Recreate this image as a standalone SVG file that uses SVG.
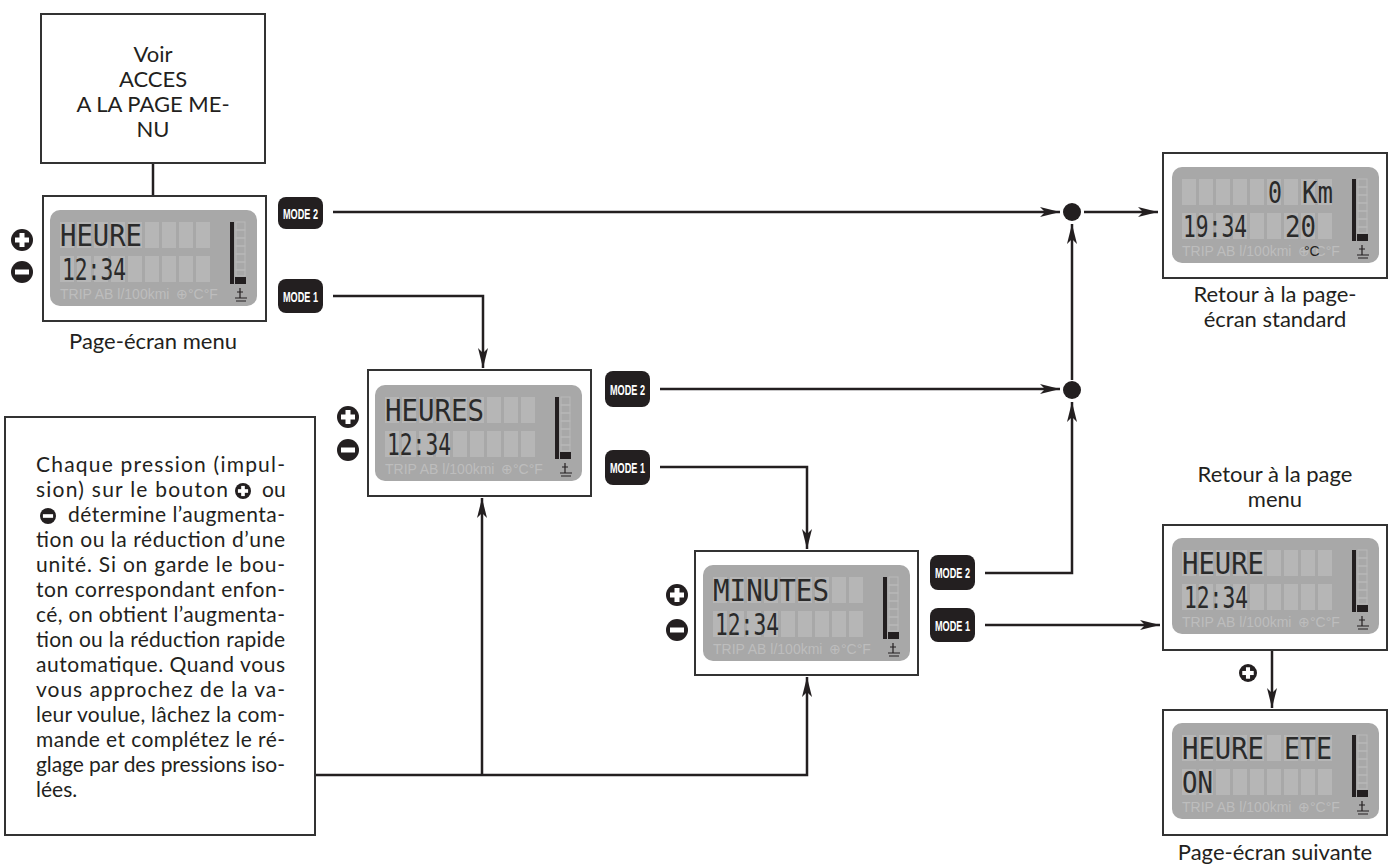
<svg xmlns="http://www.w3.org/2000/svg" xmlns:xlink="http://www.w3.org/1999/xlink" width="1392" height="867" viewBox="0 0 1392 867">
<style>
.frame{fill:#fff;stroke:#333;stroke-width:2}
.cap{font-family:"Lato","Open Sans",sans-serif;font-size:22px;fill:#231f20;text-anchor:middle}
.para{font-family:"Lato","Open Sans",sans-serif;font-size:21px;fill:#231f20}
.conn{fill:none;stroke:#231f20;stroke-width:2.5}
.lcdt{font-family:"DejaVu Sans Mono",monospace;font-size:30px;fill:#2a2a2a}
.btn{fill:#231f20}
.btxt{font-family:"Liberation Sans",sans-serif;font-weight:bold;font-size:15px;fill:#fff}
</style>
<defs>
<marker id="ah" viewBox="0 0 20 10" refX="20" refY="5" markerWidth="20" markerHeight="10" markerUnits="userSpaceOnUse" orient="auto">
<path d="M0,0 L20,5 L0,10 L5,5 Z" fill="#231f20"/>
</marker>
<symbol id="plus" viewBox="-11 -11 22 22" overflow="visible"><circle r="11" fill="#231f20"/><rect x="-7" y="-2.5" width="14" height="5" fill="#fff"/><rect x="-2.5" y="-7" width="5" height="14" fill="#fff"/></symbol>
<symbol id="minus" viewBox="-11 -11 22 22" overflow="visible"><circle r="11" fill="#231f20"/><rect x="-7" y="-2.5" width="14" height="5" fill="#fff"/></symbol>
<g id="lcd">
<rect width="207" height="96" rx="10" fill="#a8a8a8"/>
<g fill="#b6b6b6">
<rect x="10" y="12" width="14" height="26"/><rect x="27" y="12" width="14" height="26"/><rect x="44" y="12" width="14" height="26"/><rect x="61" y="12" width="14" height="26"/><rect x="78" y="12" width="14" height="26"/><rect x="95" y="12" width="14" height="26"/><rect x="112" y="12" width="14" height="26"/><rect x="129" y="12" width="14" height="26"/><rect x="146" y="12" width="14" height="26"/>
<rect x="10" y="46" width="14" height="26"/><rect x="27" y="46" width="14" height="26"/><rect x="44" y="46" width="14" height="26"/><rect x="61" y="46" width="14" height="26"/><rect x="78" y="46" width="14" height="26"/><rect x="95" y="46" width="14" height="26"/><rect x="112" y="46" width="14" height="26"/><rect x="129" y="46" width="14" height="26"/><rect x="146" y="46" width="14" height="26"/>
</g>
<rect x="180" y="12" width="4" height="62" fill="#231f20"/>
<g fill="none" stroke="#b8b8b8" stroke-width="1"><rect x="186" y="12" width="9" height="8"/><rect x="186" y="20" width="9" height="8"/><rect x="186" y="28" width="9" height="8"/><rect x="186" y="36" width="9" height="8"/><rect x="186" y="44" width="9" height="8"/><rect x="186" y="52" width="9" height="8"/><rect x="186" y="60" width="9" height="6"/></g>
<rect x="185" y="67" width="11" height="7" fill="#231f20"/>
<text x="10" y="89" font-family="Liberation Sans,sans-serif" font-size="14" fill="#bdbdbd">TRIP AB l/100kmi</text>
<text x="126" y="89" font-family="Liberation Sans,sans-serif" font-size="14" fill="#bdbdbd">⊕°C°F</text>
<path d="M190,78 V88 M187,82 H193 M185,88 H197 M186,91 H196" stroke="#231f20" stroke-width="1.2" fill="none"/>
</g>
</defs>

<g id="connectors">
<path class="conn" d="M153,163 V196"/>
<path class="conn" d="M333,212 H1060" marker-end="url(#ah)"/>
<path class="conn" d="M1084,212 H1158" marker-end="url(#ah)"/>
<path class="conn" d="M333,296 H483 V368" marker-end="url(#ah)"/>
<path class="conn" d="M660,389 H1060" marker-end="url(#ah)"/>
<path class="conn" d="M1072,380 V224" marker-end="url(#ah)"/>
<path class="conn" d="M660,467 H807 V549" marker-end="url(#ah)"/>
<path class="conn" d="M985,573 H1072 V402" marker-end="url(#ah)"/>
<path class="conn" d="M985,625 H1160" marker-end="url(#ah)"/>
<path class="conn" d="M1272,650 V708" marker-end="url(#ah)"/>
<path class="conn" d="M315,775 H807 V677" marker-end="url(#ah)"/>
<path class="conn" d="M482,775 V498" marker-end="url(#ah)"/>
<circle cx="1072" cy="212" r="9" fill="#231f20"/>
<circle cx="1072" cy="390" r="9" fill="#231f20"/>
</g>

<g id="voir">
<rect class="frame" x="41" y="14" width="224" height="149"/>
<text class="cap" x="153" y="62">Voir</text>
<text class="cap" x="153" y="87">ACCES</text>
<text class="cap" x="153" y="112">A LA PAGE ME-</text>
<text class="cap" x="153" y="137">NU</text>
</g>

<g id="menu">
<rect class="frame" x="43" y="196" width="223" height="125"/>
<use href="#lcd" x="50" y="210"/>
<text class="lcdt" x="60" y="246" textLength="82" lengthAdjust="spacingAndGlyphs">HEURE</text>
<text class="lcdt" x="62" y="280" textLength="64" lengthAdjust="spacingAndGlyphs">12:34</text>
<use href="#plus" x="11" y="229" width="22" height="22"/>
<use href="#minus" x="11" y="261" width="22" height="22"/>
<rect class="btn" x="278" y="197" width="45" height="32" rx="8"/><text class="btxt" x="283" y="219" textLength="35" lengthAdjust="spacingAndGlyphs">MODE 2</text>
<rect class="btn" x="278" y="279" width="45" height="34" rx="8"/><text class="btxt" x="283" y="302" textLength="35" lengthAdjust="spacingAndGlyphs">MODE 1</text>
<text class="cap" x="153" y="349">Page-écran menu</text>
</g>

<g id="heures">
<rect class="frame" x="368" y="370" width="223" height="126"/>
<use href="#lcd" x="375" y="385"/>
<text class="lcdt" x="385" y="421" textLength="99" lengthAdjust="spacingAndGlyphs">HEURES</text>
<text class="lcdt" x="387" y="455" textLength="64" lengthAdjust="spacingAndGlyphs">12:34</text>
<use href="#plus" x="337" y="406" width="22" height="22"/>
<use href="#minus" x="337" y="439" width="22" height="22"/>
<rect class="btn" x="605" y="371" width="45" height="36" rx="8"/><text class="btxt" x="610" y="395" textLength="35" lengthAdjust="spacingAndGlyphs">MODE 2</text>
<rect class="btn" x="605" y="450" width="45" height="35" rx="8"/><text class="btxt" x="610" y="473" textLength="35" lengthAdjust="spacingAndGlyphs">MODE 1</text>
</g>

<g id="minutes">
<rect class="frame" x="695" y="551" width="223" height="124"/>
<use href="#lcd" x="703" y="565"/>
<text class="lcdt" x="713" y="601" textLength="116" lengthAdjust="spacingAndGlyphs">MINUTES</text>
<text class="lcdt" x="715" y="635" textLength="64" lengthAdjust="spacingAndGlyphs">12:34</text>
<use href="#plus" x="666" y="584" width="22" height="22"/>
<use href="#minus" x="666" y="619" width="22" height="22"/>
<rect class="btn" x="930" y="555" width="45" height="35" rx="8"/><text class="btxt" x="935" y="578" textLength="35" lengthAdjust="spacingAndGlyphs">MODE 2</text>
<rect class="btn" x="930" y="608" width="45" height="34" rx="8"/><text class="btxt" x="935" y="631" textLength="35" lengthAdjust="spacingAndGlyphs">MODE 1</text>
</g>

<g id="standard">
<rect class="frame" x="1163" y="153" width="224" height="125"/>
<use href="#lcd" x="1172" y="167"/>
<text class="lcdt" x="1268" y="203" textLength="14" lengthAdjust="spacingAndGlyphs">0</text>
<text class="lcdt" x="1302" y="203" textLength="31" lengthAdjust="spacingAndGlyphs">Km</text>
<text class="lcdt" x="1183" y="237" textLength="64" lengthAdjust="spacingAndGlyphs">19:34</text>
<text class="lcdt" x="1285" y="237" textLength="31" lengthAdjust="spacingAndGlyphs">20</text>
<text x="1304" y="256" font-family="Liberation Sans,sans-serif" font-size="14" fill="#231f20">°C</text>
<text class="cap" x="1275" y="302">Retour à la page-</text>
<text class="cap" x="1275" y="327">écran standard</text>
</g>

<g id="retour-menu">
<text class="cap" x="1275" y="482">Retour à la page</text>
<text class="cap" x="1275" y="507">menu</text>
<rect class="frame" x="1163" y="525" width="224" height="125"/>
<use href="#lcd" x="1172" y="538"/>
<text class="lcdt" x="1182" y="574" textLength="82" lengthAdjust="spacingAndGlyphs">HEURE</text>
<text class="lcdt" x="1184" y="608" textLength="64" lengthAdjust="spacingAndGlyphs">12:34</text>
<use href="#plus" x="1239" y="664" width="18" height="18"/>
</g>

<g id="suivante">
<rect class="frame" x="1163" y="710" width="224" height="125"/>
<use href="#lcd" x="1172" y="723"/>
<text class="lcdt" x="1182" y="759" textLength="82" lengthAdjust="spacingAndGlyphs">HEURE</text>
<text class="lcdt" x="1284" y="759" textLength="48" lengthAdjust="spacingAndGlyphs">ETE</text>
<text class="lcdt" x="1182" y="793" textLength="31" lengthAdjust="spacingAndGlyphs">ON</text>
<text class="cap" x="1275" y="860">Page-écran suivante</text>
</g>

<g id="note">
<rect class="frame" x="5" y="417" width="310" height="418"/>
<g class="para">
<text x="36" y="472" textLength="249">Chaque pression (impul-</text>
<text x="36" y="497" textLength="192">sion) sur le bouton</text>
<text x="262" y="497">ou</text>
<text x="68" y="522" textLength="217">détermine l’augmenta-</text>
<text x="36" y="547" textLength="249">tion ou la réduction d’une</text>
<text x="36" y="572" textLength="249">unité. Si on garde le bou-</text>
<text x="36" y="597" textLength="249">ton correspondant enfon-</text>
<text x="36" y="622" textLength="249">cé, on obtient l’augmenta-</text>
<text x="36" y="647" textLength="249">tion ou la réduction rapide</text>
<text x="36" y="672" textLength="249">automatique. Quand vous</text>
<text x="36" y="697" textLength="249">vous approchez de la va-</text>
<text x="36" y="722" textLength="249">leur voulue, lâchez la com-</text>
<text x="36" y="747" textLength="249">mande et complétez le ré-</text>
<text x="36" y="772" textLength="249">glage par des pressions iso-</text>
<text x="36" y="797">lées.</text>
</g>
<use href="#plus" x="235" y="483" width="16" height="16"/>
<use href="#minus" x="40" y="508" width="16" height="16"/>
</g>
</svg>
